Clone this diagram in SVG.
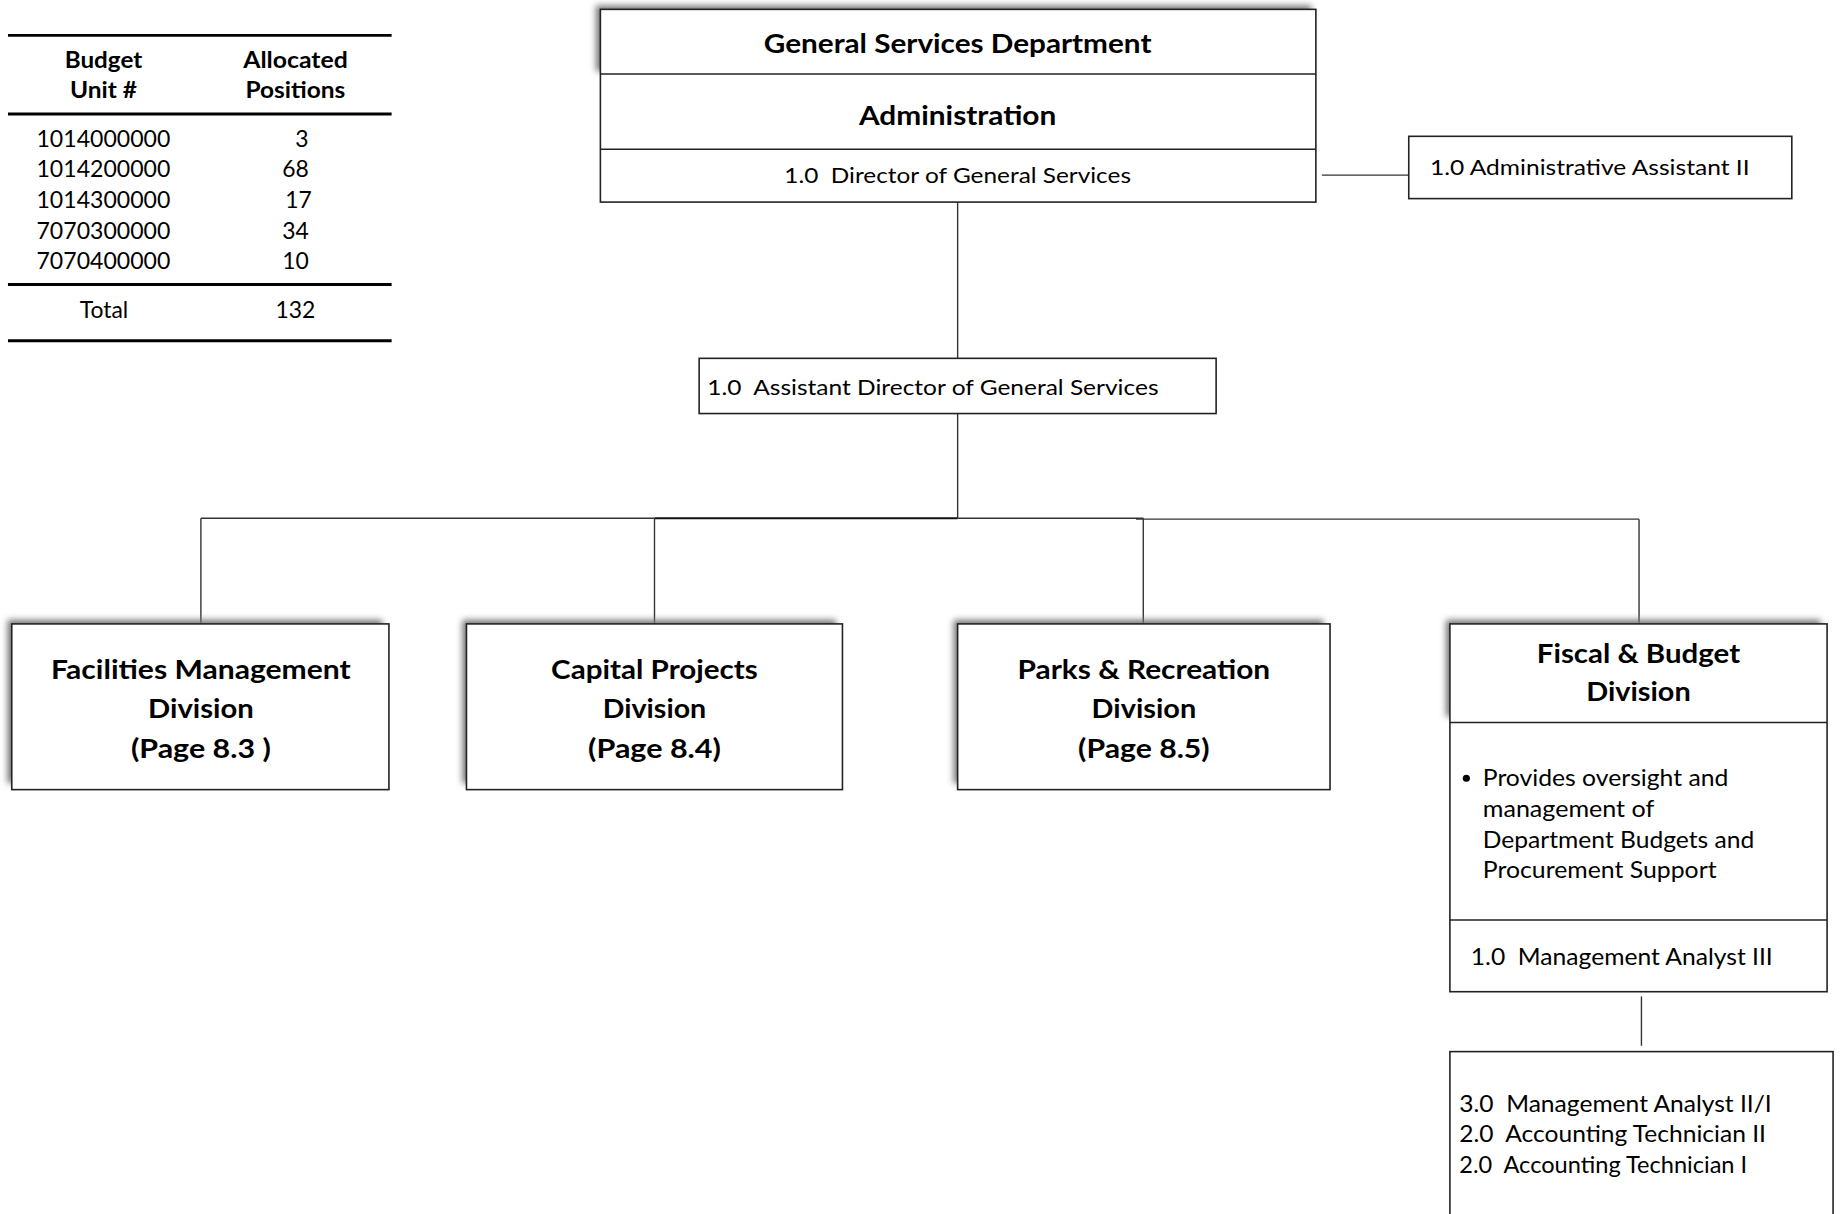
<svg xmlns="http://www.w3.org/2000/svg" width="1843" height="1214" viewBox="0 0 1843 1214">
<style>
text{font-family:Lato,"Open Sans","Liberation Sans",sans-serif;fill:#000;white-space:pre}
.b{font-weight:bold}
.h{font-size:26px;font-weight:bold;text-anchor:middle}
.th{font-size:22px;font-weight:bold;text-anchor:middle}
.tn{font-size:23px;text-anchor:middle}
.r{font-size:22px}
.f{font-size:24px}
.box{fill:#fff;stroke:#222;stroke-width:1.6}
.div{stroke:#222;stroke-width:1.6}
.tl{stroke:#000;stroke-width:3}
.con{stroke:#333;stroke-width:1.4;fill:none}
.sh{fill:#777}
</style>
<defs>
<filter id="blur" x="-10%" y="-30%" width="120%" height="160%"><feGaussianBlur stdDeviation="3"/></filter>
</defs>
<rect width="1843" height="1214" fill="#fff"/>
<g id="page" transform="scale(0.9965)">

<g id="table">
<line class="tl" x1="8" y1="35.5" x2="393" y2="35.5"/>
<line class="tl" x1="8" y1="114.5" x2="393" y2="114.5"/>
<line class="tl" x1="8" y1="285.5" x2="393" y2="285.5"/>
<line class="tl" x1="8" y1="342" x2="393" y2="342"/>
<text class="th" x="103.8" y="68" textLength="77.8" lengthAdjust="spacingAndGlyphs">Budget</text>
<text class="th" x="103.8" y="98.7" textLength="67.2" lengthAdjust="spacingAndGlyphs">Unit #</text>
<text class="th" x="296.5" y="68" textLength="104.9" lengthAdjust="spacingAndGlyphs">Allocated</text>
<text class="th" x="296.5" y="98.7" textLength="100.2" lengthAdjust="spacingAndGlyphs">Positions</text>
<text class="tn" x="103.8" y="147.4" textLength="134.4" lengthAdjust="spacingAndGlyphs">1014000000</text>
<text class="tn" x="103.8" y="178.1" textLength="134.4" lengthAdjust="spacingAndGlyphs">1014200000</text>
<text class="tn" x="103.8" y="208.7" textLength="134.4" lengthAdjust="spacingAndGlyphs">1014300000</text>
<text class="tn" x="103.8" y="239.4" textLength="134.4" lengthAdjust="spacingAndGlyphs">7070300000</text>
<text class="tn" x="103.8" y="270.1" textLength="134.4" lengthAdjust="spacingAndGlyphs">7070400000</text>
<text class="tn" x="303" y="147.4">3</text>
<text class="tn" x="296.5" y="178.1">68</text>
<text class="tn" x="299.5" y="208.7">17</text>
<text class="tn" x="296.5" y="239.4">34</text>
<text class="tn" x="296.5" y="270.1">10</text>
<text class="tn" x="104.3" y="319.6">Total</text>
<text class="tn" x="296.5" y="319.6">132</text>
</g>

<g id="connectors">
<line class="con" x1="961" y1="202.8" x2="961" y2="359.6"/>
<line class="con" x1="1326.5" y1="175.7" x2="1413.7" y2="175.7"/>
<line class="con" x1="961" y1="415" x2="961" y2="520"/>
<line class="con" x1="201.6" y1="520" x2="656.8" y2="520"/>
<line x1="656.8" y1="520" x2="961" y2="520" stroke="#111" stroke-width="2"/>
<line class="con" x1="961" y1="520" x2="1147.3" y2="520"/>
<line class="con" x1="1140" y1="521" x2="1644.8" y2="521"/>
<line class="con" x1="201.6" y1="520" x2="201.6" y2="626.1"/>
<line class="con" x1="656.8" y1="520" x2="656.8" y2="626.1"/>
<line class="con" x1="1147.3" y1="520" x2="1147.3" y2="626.1"/>
<line class="con" x1="1644.8" y1="521" x2="1644.8" y2="626.1"/>
<line class="con" x1="1647.2" y1="999.9" x2="1647.2" y2="1049.4"/>
</g>

<g id="gsd">
<rect class="sh" x="598" y="5.5" width="718" height="66" filter="url(#blur)"/>
<rect class="box" x="602.5" y="9.4" width="718" height="193.4"/>
<line class="div" x1="602.5" y1="74.3" x2="1320.5" y2="74.3"/>
<line class="div" x1="602.5" y1="149.7" x2="1320.5" y2="149.7"/>
<text class="h" x="961" y="53" textLength="389" lengthAdjust="spacingAndGlyphs">General Services Department</text>
<text class="h" x="961" y="125" textLength="198" lengthAdjust="spacingAndGlyphs">Administration</text>
<text class="r" x="961" y="183.6" text-anchor="middle" textLength="348" lengthAdjust="spacingAndGlyphs" xml:space="preserve">1.0  Director of General Services</text>
</g>

<g id="admin-assistant">
<rect class="box" x="1413.7" y="136.8" width="384.4" height="62.5"/>
<text class="r" x="1435" y="175.3" textLength="320.7" lengthAdjust="spacingAndGlyphs">1.0 Administrative Assistant II</text>
</g>

<g id="assistant-director">
<rect class="box" x="701.6" y="359.6" width="518.8" height="55.4"/>
<text class="r" x="709.8" y="395.9" textLength="452.8" lengthAdjust="spacingAndGlyphs" xml:space="preserve">1.0  Assistant Director of General Services</text>
</g>

<g id="facilities">
<rect class="sh" x="7.5" y="622" width="376" height="164" filter="url(#blur)"/>
<rect class="box" x="11.8" y="626.1" width="378.5" height="166.3"/>
<text class="h" x="201.6" y="681.5" textLength="300.7" lengthAdjust="spacingAndGlyphs">Facilities Management</text>
<text class="h" x="201.6" y="720.4" textLength="106.1" lengthAdjust="spacingAndGlyphs">Division</text>
<text class="h" x="201.6" y="760.5" textLength="140.3" lengthAdjust="spacingAndGlyphs" xml:space="preserve">(Page 8.3 )</text>
</g>

<g id="capital">
<rect class="sh" x="464" y="622" width="375" height="164" filter="url(#blur)"/>
<rect class="box" x="468.1" y="626.1" width="377.3" height="166.3"/>
<text class="h" x="656.8" y="681.5" textLength="207.5" lengthAdjust="spacingAndGlyphs">Capital Projects</text>
<text class="h" x="656.8" y="720.4" textLength="103.8" lengthAdjust="spacingAndGlyphs">Division</text>
<text class="h" x="656.8" y="760.5" textLength="133.2" lengthAdjust="spacingAndGlyphs">(Page 8.4)</text>
</g>

<g id="parks">
<rect class="sh" x="957" y="622" width="371" height="164" filter="url(#blur)"/>
<rect class="box" x="961" y="626.1" width="373.7" height="166.3"/>
<text class="h" x="1147.9" y="681.5" textLength="253.5" lengthAdjust="spacingAndGlyphs">Parks &amp; Recreation</text>
<text class="h" x="1147.9" y="720.4" textLength="105" lengthAdjust="spacingAndGlyphs">Division</text>
<text class="h" x="1147.9" y="760.5" textLength="132" lengthAdjust="spacingAndGlyphs">(Page 8.5)</text>
</g>

<g id="fiscal">
<rect class="sh" x="1451" y="622" width="376" height="97" filter="url(#blur)"/>
<rect class="box" x="1455" y="626.1" width="378.5" height="369.1"/>
<line class="div" x1="1455" y1="725.1" x2="1833.5" y2="725.1"/>
<line class="div" x1="1455" y1="923.2" x2="1833.5" y2="923.2"/>
<text class="h" x="1644.2" y="665" textLength="204" lengthAdjust="spacingAndGlyphs">Fiscal &amp; Budget</text>
<text class="h" x="1644.2" y="703.9" textLength="104.9" lengthAdjust="spacingAndGlyphs">Division</text>
<circle cx="1471.5" cy="781" r="3.6" fill="#000"/>
<text class="f" x="1488" y="789.2" textLength="246.4" lengthAdjust="spacingAndGlyphs">Provides oversight and</text>
<text class="f" x="1488" y="819.8" textLength="172.1" lengthAdjust="spacingAndGlyphs">management of</text>
<text class="f" x="1488" y="850.5" textLength="272.4" lengthAdjust="spacingAndGlyphs">Department Budgets and</text>
<text class="f" x="1488" y="881.1" textLength="234.6" lengthAdjust="spacingAndGlyphs">Procurement Support</text>
<text class="f" x="1476" y="968.4" textLength="303" lengthAdjust="spacingAndGlyphs" xml:space="preserve">1.0  Management Analyst III</text>
</g>

<g id="fiscal-staff">
<rect class="box" x="1455" y="1055.3" width="384.5" height="175"/>
<text class="f" x="1464.4" y="1115.8" textLength="313.6" lengthAdjust="spacingAndGlyphs" xml:space="preserve">3.0  Management Analyst II/I</text>
<text class="f" x="1464.4" y="1146.5" textLength="307.7" lengthAdjust="spacingAndGlyphs" xml:space="preserve">2.0  Accounting Technician II</text>
<text class="f" x="1464.4" y="1177.1" textLength="288.9" lengthAdjust="spacingAndGlyphs" xml:space="preserve">2.0  Accounting Technician I</text>
</g>
</g>
</svg>
